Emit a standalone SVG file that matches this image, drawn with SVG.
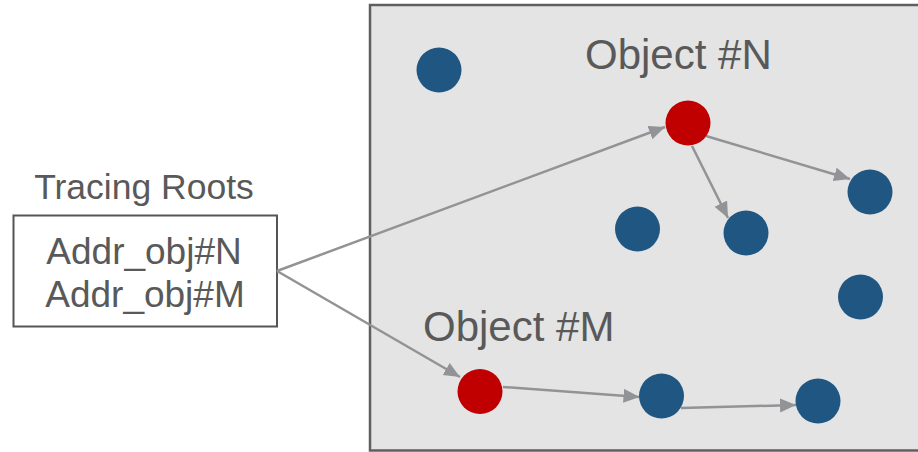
<svg xmlns="http://www.w3.org/2000/svg" width="918" height="452" viewBox="0 0 918 452">
  <style>
    .label { font-family: "Liberation Sans", Arial, sans-serif; fill: #595959; }
    .obj { stroke: none; }
    .live { fill: #1f5682; }
    .root { fill: #c00000; }
    .edge { stroke: #929396; stroke-width: 2.5; fill: none; marker-end: url(#head); }
  </style>
  <defs>
    <marker id="head" markerUnits="userSpaceOnUse" markerWidth="17" markerHeight="15" refX="16" refY="7" orient="auto">
      <path d="M0,0 L16,7 L0,14 z" fill="#929396"/>
    </marker>
  </defs>

  <rect width="918" height="452" fill="#ffffff"/>

  <!-- heap area -->
  <g id="heap">
    <rect x="370" y="5" width="560" height="445.5" fill="#e4e4e4" stroke="#5f5f5f" stroke-width="2.5"/>
  </g>

  <!-- root set -->
  <g id="tracing-roots">
    <text class="label" x="144" y="199" font-size="35.5" text-anchor="middle">Tracing Roots</text>
    <rect x="13.5" y="215.5" width="263.5" height="111" fill="#ffffff" stroke="#555555" stroke-width="2"/>
    <text class="label" x="144" y="264" font-size="37" text-anchor="middle">Addr_obj#N</text>
    <text class="label" x="145" y="307" font-size="37" text-anchor="middle">Addr_obj#M</text>
  </g>

  <g id="label-n"><text class="label" x="585" y="69" font-size="42">Object #N</text></g>
  <g id="label-m"><text class="label" x="423" y="341" font-size="42">Object #M</text></g>

  <!-- references -->
  <g id="connectors">
    <line class="edge" x1="277" y1="271" x2="665" y2="127"/>
    <line class="edge" x1="277" y1="271" x2="460" y2="377"/>
    <line class="edge" x1="706" y1="136" x2="850" y2="179"/>
    <line class="edge" x1="692" y1="146" x2="728" y2="218"/>
    <line class="edge" x1="503" y1="387" x2="639.5" y2="397"/>
    <line class="edge" x1="681" y1="408" x2="796" y2="405"/>
  </g>

  <!-- objects -->
  <g id="obj-a"><circle class="obj live" cx="439" cy="70" r="22.5"/></g>
  <g id="obj-n"><circle class="obj root" cx="688" cy="123" r="22.5"/></g>
  <g id="obj-b"><circle class="obj live" cx="637.5" cy="229" r="22.5"/></g>
  <g id="obj-c"><circle class="obj live" cx="746" cy="233" r="22.5"/></g>
  <g id="obj-d"><circle class="obj live" cx="870" cy="192" r="22.5"/></g>
  <g id="obj-e"><circle class="obj live" cx="860.5" cy="297" r="22.5"/></g>
  <g id="obj-m"><circle class="obj root" cx="480" cy="391.5" r="22.5"/></g>
  <g id="obj-f"><circle class="obj live" cx="661.5" cy="396" r="22.5"/></g>
  <g id="obj-g"><circle class="obj live" cx="818" cy="401" r="22.5"/></g>
</svg>
